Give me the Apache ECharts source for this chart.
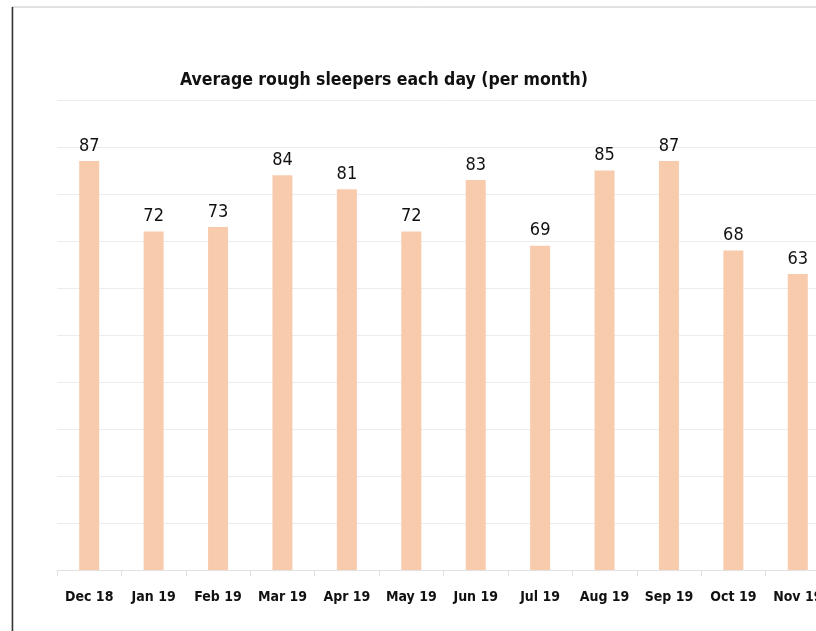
<!DOCTYPE html>
<html>
<head>
<meta charset="utf-8">
<script src="https://cdn.jsdelivr.net/npm/echarts@6/dist/echarts.min.js"></script>
<style>
  html, body { margin: 0; padding: 0; background: #fff; overflow: hidden; }
  body { width: 816px; height: 631px; }
  /* the original chart is cut off on the right, so the canvas is wider than the window */
  #chart { width: 832px; height: 631px; }
</style>
</head>
<body>
<div id="chart"></div>
<script>
// data
const months = ['Dec 18', 'Jan 19', 'Feb 19', 'Mar 19', 'Apr 19', 'May 19', 'Jun 19', 'Jul 19', 'Aug 19', 'Sep 19', 'Oct 19', 'Nov 19']
const sleepers = [87, 72, 73, 84, 81, 72, 83, 69, 85, 87, 68, 63]
const titleText = 'Average rough sleepers each day (per month)'

const font = '"Liberation Sans Narrow", "DejaVu Sans Condensed", sans-serif'
const chart = echarts.init(document.getElementById('chart'))

chart.setOption({
  backgroundColor: '#fff',
  animation: false,
  title: {
    text: titleText,
    left: 379,
    textAlign: 'center',
    top: 66,
    textStyle: { fontFamily: font, fontSize: 17.5, fontWeight: 'bold', color: '#111' }
  },
  graphic: [
    { type: 'rect', shape: { x: 12, y: 7, width: 830, height: 630 }, style: { fill: 'none', stroke: '#c4c4c4', lineWidth: 1 }, silent: true },
    { type: 'line', shape: { x1: 12.5, y1: 7, x2: 12.5, y2: 631 }, style: { stroke: '#333', lineWidth: 1.5 }, silent: true }
  ],
  grid: { left: 57, top: 100, width: 773, height: 470 },
  xAxis: {
    type: 'category',
    data: months,
    axisLine: { lineStyle: { color: '#e2e2e2' } },
    axisTick: { show: true, length: 6, lineStyle: { color: '#e2e2e2' } },
    axisLabel: { interval: 0, fontFamily: font, fontSize: 14, fontWeight: 'bold', color: '#111', margin: 20 }
  },
  yAxis: {
    type: 'value',
    min: 0,
    max: 100,
    interval: 10,
    axisLabel: { show: false },
    axisLine: { show: false },
    axisTick: { show: false },
    splitLine: { lineStyle: { color: '#ececec' } }
  },
  series: [{
    type: 'bar',
    data: sleepers,
    barWidth: 20,
    itemStyle: { color: '#F8CBAD' },
    label: {
      show: true,
      position: 'top',
      distance: 6,
      fontFamily: font,
      fontSize: 18,
      color: '#111'
    }
  }]
})
</script>
</body>
</html>
